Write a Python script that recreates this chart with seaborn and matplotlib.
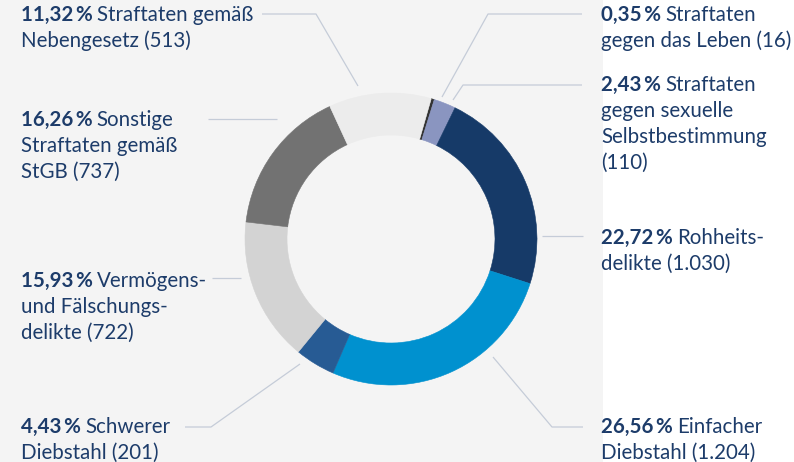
import matplotlib
matplotlib.use("Agg")
import matplotlib.pyplot as plt
from matplotlib.patches import Rectangle
import seaborn as sns

# shares in percent, clockwise starting just right of 12 o'clock
shares = [0.35, 2.43, 22.72, 26.56, 4.43, 15.93, 16.26, 11.32]
counts = [16, 110, 1030, 1204, 201, 722, 737, 513]
names = [
    ["Straftaten", "gegen das Leben"],
    ["Straftaten", "gegen sexuelle", "Selbstbestimmung", ""],
    ["Rohheits-", "delikte"],
    ["Einfacher", "Diebstahl"],
    ["Schwerer", "Diebstahl"],
    ["Vermögens-", "und Fälschungs-", "delikte"],
    ["Sonstige", "Straftaten gemäß", "StGB"],
    ["Straftaten gemäß", "Nebengesetz"],
]
colors = ["#333333", "#8a95c0", "#163a68", "#0091cf", "#275b94",
          "#d3d3d3", "#727272", "#ececec"]

# label anchor (left x, first baseline) and leader polyline, in pixels from top-left
label_pos = [(601, 21), (601, 91), (601, 244), (601, 433),
             (21, 433), (21, 287), (21, 126), (21, 21)]
leaders = [
    [(582, 14), (488, 14), (442, 97)],
    [(582, 85), (463, 85), (453, 100)],
    [(542, 236), (583, 236)],
    [(493, 357), (552, 427), (583, 427)],
    [(300, 364), (211, 427), (185, 427)],
    [(212, 278), (241, 278)],
    [(208, 119), (277, 119)],
    [(262, 14), (316, 14), (358, 86)],
]

W, H = 794, 462
TEXT = "#1d3c6a"
LINE = "#c5ccd8"
FS = 14.8
LH = 26

sns.set_theme(style="white")
plt.rcParams["font.family"] = ["Lato", "DejaVu Sans"]

fig = plt.figure(figsize=(W / 100, H / 100), dpi=100)
fig.patch.set_facecolor("white")
ax = fig.add_axes([0, 0, 1, 1])
ax.add_patch(Rectangle((0, 0), 603, H, color="#f4f4f4", zorder=0, lw=0))

wedges, _ = ax.pie(shares, colors=colors, startangle=74, counterclock=False,
                   radius=146, center=(391, H - 239),
                   wedgeprops=dict(width=42, linewidth=0.4))
for w in wedges:
    w.set_edgecolor(w.get_facecolor())
ax.set_xlim(0, W)
ax.set_ylim(0, H)
ax.set_aspect("equal")
ax.axis("off")

for pts in leaders:
    ax.plot([p[0] for p in pts], [H - p[1] for p in pts], color=LINE, lw=0.9,
            solid_capstyle="butt")

for share, cnt, lines, (x, y) in zip(shares, counts, names, label_pos):
    pct = f"{share:.2f}".replace(".", ",") + "\u2009%"
    num = f"({cnt:,})".replace(",", ".")
    lines = list(lines)
    lines[-1] = (lines[-1] + " " + num).strip()
    t = ax.text(x, H - y, pct, fontsize=FS, fontweight="bold", color=TEXT,
                va="baseline", ha="left")
    ax.annotate(lines[0], xy=(1, 0), xycoords=t, xytext=(3, 0),
                textcoords="offset points", fontsize=FS, color=TEXT,
                va="bottom", ha="left")
    for i, ln in enumerate(lines[1:], start=1):
        ax.text(x, H - y - i * LH, ln, fontsize=FS, color=TEXT,
                va="baseline", ha="left")

fig.savefig("out.png", dpi=100)
